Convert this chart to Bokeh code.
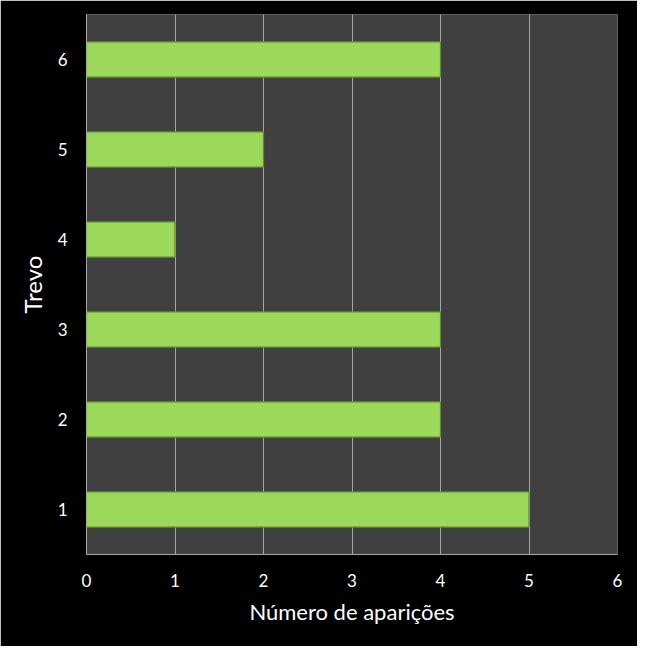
from bokeh.plotting import figure
from bokeh.models import FactorRange, ColumnDataSource, Range1d, FixedTicker
from bokeh.embed import file_html
from bokeh.resources import INLINE

categories = ["1", "2", "3", "4", "5", "6"]
values = [5, 4, 4, 1, 2, 4]
x_ticks = [0, 1, 2, 3, 4, 5, 6]

src = ColumnDataSource(dict(cat=categories, val=values))

p = figure(
    y_range=FactorRange(factors=categories),
    x_range=Range1d(0, 6),
    frame_width=531, frame_height=540,
    min_border_left=86, min_border_right=20, min_border_top=14, min_border_bottom=92,
    output_backend="svg", toolbar_location=None,
)
p.border_fill_color = "black"
p.background_fill_color = "#404040"
p.outline_line_color = None

p.hbar(y="cat", right="val", left=0, height=0.39, source=src,
       fill_color="#9CD95A", line_color="#5F8C30", line_width=1.2)

p.xaxis.ticker = FixedTicker(ticks=x_ticks)
p.xgrid.grid_line_color = "#A6A6A6"
p.xgrid.grid_line_width = 1
p.ygrid.grid_line_color = None

for ax in (p.xaxis, p.yaxis):
    ax.axis_line_color = "#A6A6A6"
    ax.axis_line_width = 1
    ax.major_tick_line_color = None
    ax.minor_tick_line_color = None
    ax.major_tick_out = 0
    ax.major_tick_in = 0
    ax.major_label_text_color = "white"
    ax.major_label_text_font = "Lato"
    ax.major_label_text_font_size = "17px"
    ax.axis_label_text_color = "white"
    ax.axis_label_text_font = "Lato"
    ax.axis_label_text_font_style = "normal"

p.xaxis.major_label_standoff = 19
p.yaxis.major_label_standoff = 19
p.xaxis.axis_label = "Número de aparições"
p.xaxis.axis_label_text_font_size = "22px"
p.xaxis.axis_label_standoff = 8
p.yaxis.axis_label = "Trevo"
p.yaxis.axis_label_text_font_size = "24px"
p.yaxis.axis_label_standoff = 8

open("out.html", "w").write(file_html(p, INLINE))
